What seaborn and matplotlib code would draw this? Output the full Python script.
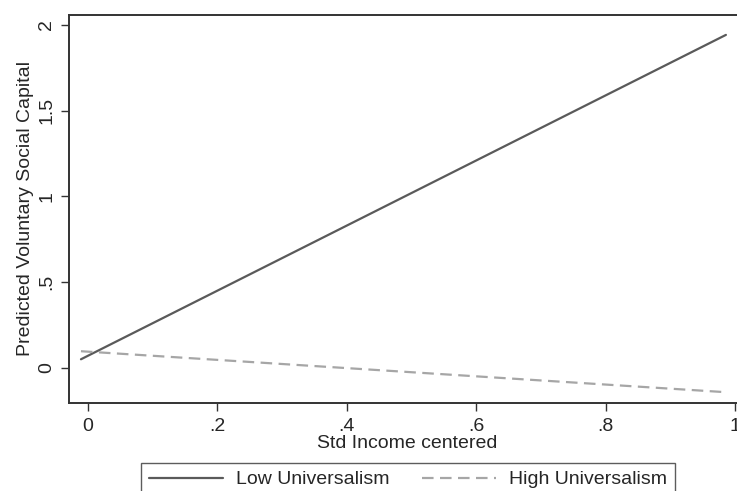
import matplotlib
matplotlib.use("Agg")
import matplotlib.pyplot as plt
import seaborn as sns
import pandas as pd

# Predicted values at the ends of the observed income range
income = [-0.011, 0.986]
low_universalism = [0.050, 1.942]
high_universalism = [0.097, -0.142]

series_names = ["Low Universalism", "High Universalism"]
x_ticks = [0, 0.2, 0.4, 0.6, 0.8, 1.0]
x_tick_labels = ["0", ".2", ".4", ".6", ".8", "1"]
y_ticks = [0, 0.5, 1.0, 1.5, 2.0]
y_tick_labels = ["0", ".5", "1", "1.5", "2"]

df = pd.DataFrame({
    "income": income * 2,
    "pred": low_universalism + high_universalism,
    "group": [series_names[0]] * len(income) + [series_names[1]] * len(income),
})

sns.set_style("white")
plt.rcParams["font.family"] = ["Liberation Sans", "DejaVu Sans"]

W, H = 737, 491
fig = plt.figure(figsize=(W / 100, H / 100), dpi=100)
left_px, right_px, top_px, bottom_px = 69, 745, 15, 403
ax = fig.add_axes([left_px / W, 1 - bottom_px / H,
                   (right_px - left_px) / W, (bottom_px - top_px) / H])

styles = {
    series_names[0]: dict(color="#5a5a5a", linestyle="-", linewidth=1.6),
    series_names[1]: dict(color="#a6a6a6", linestyle=(0, (5.2, 2.9)), linewidth=1.6),
}
for name in series_names:
    sub = df[df["group"] == name]
    sns.lineplot(data=sub, x="income", y="pred", ax=ax, label=name,
                 **styles[name])

ax.set_xlim(-0.0295, 1.0155)
ax.set_ylim(-0.205, 2.058)
ax.set_xticks(x_ticks)
ax.set_xticklabels(x_tick_labels)
ax.set_yticks(y_ticks)
ax.set_yticklabels(y_tick_labels, rotation=90, va="center")
ax.tick_params(axis="both", which="both", direction="out", length=6,
               width=1, color="#333333", labelsize=14,
               bottom=True, left=True, top=False, right=False)
ax.tick_params(axis="x", pad=5)
ax.tick_params(axis="y", pad=4)

for side in ["left", "bottom", "top", "right"]:
    ax.spines[side].set_visible(True)
    ax.spines[side].set_color("#333333")
    ax.spines[side].set_linewidth(1.4)

ax.set_xlabel("Std Income centered", fontsize=14, labelpad=0)
ax.set_ylabel("Predicted Voluntary Social Capital", fontsize=14, labelpad=3)

handles, labels = ax.get_legend_handles_labels()
ax.get_legend().remove()
leg = fig.legend(handles, labels, ncol=2, loc="upper left",
                 bbox_to_anchor=(141 / W, 1 - 463 / H),
                 frameon=True, fancybox=False, edgecolor="#333333",
                 fontsize=14, handlelength=3.8, columnspacing=1.7,
                 handletextpad=0.67, borderpad=0.4, borderaxespad=0)
leg.get_frame().set_linewidth(1.0)

fig.savefig("out.png", dpi=100)
